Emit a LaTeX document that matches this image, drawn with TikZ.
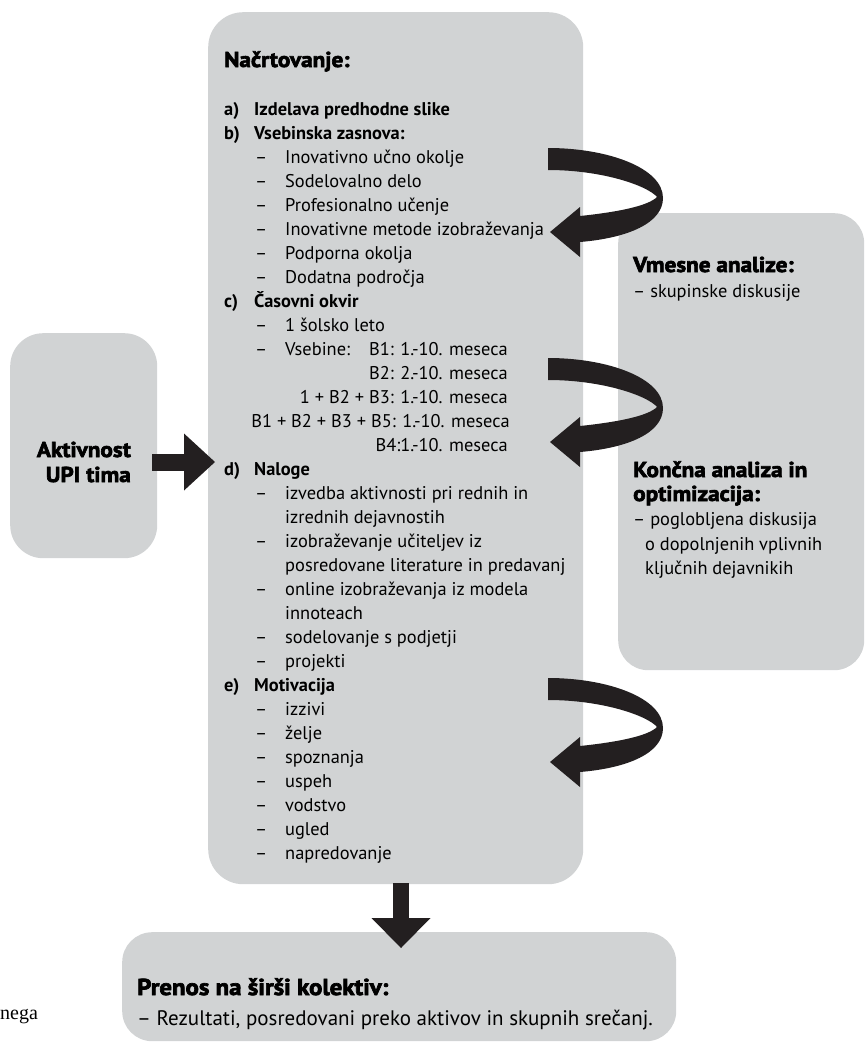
\documentclass[tikz,border=0pt]{standalone}
\usepackage{fontspec}
\setmainfont{PT Sans}
\newfontfamily\boldfont{PT Sans Bold}
\newfontfamily\heavyfont[FakeBold=3,FakeStretch=1.08]{PT Sans Bold}
\newfontfamily\negafont{Liberation Serif}
\usetikzlibrary{arrows.meta,calc}
\definecolor{boxgray}{HTML}{D1D3D4}
\definecolor{arrowblack}{HTML}{231F20}
\tikzset{
  box/.style={fill=boxgray, draw=none, inner sep=0pt, anchor=north west},
  txt/.style={anchor=base west, inner sep=0pt, font=\fontsize{18.4}{22}\selectfont},
  txtr/.style={anchor=base east, inner sep=0pt, font=\fontsize{18.4}{22}\selectfont},
  lbl/.style={anchor=base west, inner sep=0pt, font=\boldfont\fontsize{18.4}{22}\selectfont},
  hd/.style={anchor=base west, inner sep=0pt, font=\heavyfont\fontsize{21.5}{25}\selectfont},
  hdr/.style={anchor=base east, inner sep=0pt, font=\heavyfont\fontsize{21.5}{25}\selectfont},
  blockarrow/.style={draw=arrowblack, line width=#1},
  curl/.pic={\fill[arrowblack] (0,0) .. controls (60,0) and (115,20) .. (115,50)
      .. controls (115,75) and (80,90) .. (32,94) -- (32,109) -- (2,84) -- (32,59) -- (32,68)
      .. controls (70,64) and (100,58) .. (109,49)
      .. controls (100,38) and (55,22) .. (0,22) -- cycle;}
}
\newcommand\dashitem[3]{\node[txt] (#1) at (255,#2) {\makebox[30pt][l]{–}#3};}
\begin{document}
\begin{tikzpicture}[x=1pt,y=-1pt]
\useasboundingbox (0,0) rectangle (865,1042);
% boxes
\node[box, rounded corners=35pt, minimum width=375pt, minimum height=872pt] (plan) at (208,12) {};
\node[box, rounded corners=33pt, minimum width=147pt, minimum height=225pt] (ups) at (10,333) {};
\node[box, rounded corners=30pt, minimum width=246pt, minimum height=457pt] (anal) at (618,213) {};
\node[box, rounded corners=30pt, minimum width=554pt, minimum height=109pt] (prenos) at (122,932) {};
% curls
\pic (c1) at (548,148) {curl};
\pic (c2) at (548,358) {curl};
\pic (c3) at (548,678) {curl};
% block arrows
\coordinate (ay) at (0,462);
\coordinate (dx) at (401,0);
\draw[blockarrow=17pt, -{Triangle[length=31pt,width=57pt,line width=0pt]}]
  ($(ups.east |- ay)+(-5,0)$) -- ($(plan.west |- ay)+(7,0)$);
\draw[blockarrow=16pt, -{Triangle[length=30pt,width=59pt,line width=0pt]}]
  ($(plan.south -| dx)+(0,-1)$) -- ($(prenos.north -| dx)+(0,16)$);
% left box text
\node[hdr] (akt1) at (131,457) {Aktivnost};
\node[hdr] (akt2) at (131,482) {UPI tima};
% main box text
\node[hd] (naslov) at (224,67) {Načrtovanje:};
\node[lbl] (la) at (224,115) {a)};
\node[lbl] (ta) at (254,115) {Izdelava predhodne slike};
\node[lbl] (lb) at (224,139) {b)};
\node[lbl] (tb) at (254,139) {Vsebinska zasnova:};
\dashitem{b1}{163}{Inovativno učno okolje}
\dashitem{b2}{187}{Sodelovalno delo}
\dashitem{b3}{211}{Profesionalno učenje}
\dashitem{b4}{235}{Inovativne metode izobraževanja}
\dashitem{b5}{259}{Podporna okolja}
\dashitem{b6}{283}{Dodatna področja}
\node[lbl] (lc) at (224,307) {c)};
\node[lbl] (tc) at (254,307) {Časovni okvir};
\dashitem{c1t}{331}{1 šolsko leto}
\dashitem{c2t}{355}{Vsebine:}
\node[txtr] (v1) at (508,355) {B1: 1.-10. meseca};
\node[txtr] (v2) at (508,379) {B2: 2.-10. meseca};
\node[txtr] (v3) at (508,403) {1 + B2 + B3: 1.-10. meseca};
\node[txtr] (v4) at (510,427) {B1 + B2 + B3 + B5: 1.-10. meseca};
\node[txtr] (v5) at (508,451) {B4:1.-10. meseca};
\node[lbl] (ld) at (224,475) {d)};
\node[lbl] (td) at (254,475) {Naloge};
\dashitem{d1}{499}{izvedba aktivnosti pri rednih in}
\node[txt] (d1b) at (285,523) {izrednih dejavnostih};
\dashitem{d2}{547}{izobraževanje učiteljev iz}
\node[txt] (d2b) at (285,571) {posredovane literature in predavanj};
\dashitem{d3}{595}{online izobraževanja iz modela}
\node[txt] (d3b) at (285,619) {innoteach};
\dashitem{d4}{643}{sodelovanje s podjetji}
\dashitem{d5}{667}{projekti}
\node[lbl] (le) at (224,691) {e)};
\node[lbl] (te) at (254,691) {Motivacija};
\dashitem{e1}{715}{izzivi}
\dashitem{e2}{739}{želje}
\dashitem{e3}{763}{spoznanja}
\dashitem{e4}{787}{uspeh}
\dashitem{e5}{811}{vodstvo}
\dashitem{e6}{835}{ugled}
\dashitem{e7}{859}{napredovanje}
% right box text
\node[hd] (vm) at (633,272) {Vmesne analize:};
\node[txt] (vm1) at (633,297) {– skupinske diskusije};
\node[hd] (ko1) at (633,477) {Končna analiza in};
\node[hd] (ko2) at (633,501) {optimizacija:};
\node[txt] (ko3) at (633,525) {– poglobljena diskusija};
\node[txt] (ko4) at (645,550) {o dopolnjenih vplivnih};
\node[txt] (ko5) at (645,574) {ključnih dejavnikih};
% bottom box text
\node[anchor=base west, inner sep=0pt, font=\heavyfont\fontsize{23}{27}\selectfont] (pr1) at (137,995) {Prenos na širši kolektiv:};
\node[anchor=base west, inner sep=0pt, font=\fontsize{21}{25}\selectfont] (pr2) at (137,1025) {– Rezultati, posredovani preko aktivov in skupnih srečanj.};
% clipped caption fragment
\node[anchor=base west, inner sep=0pt, font=\negafont\fontsize{20}{24}\selectfont] (nega) at (0,1019) {nega};
\end{tikzpicture}
\end{document}
